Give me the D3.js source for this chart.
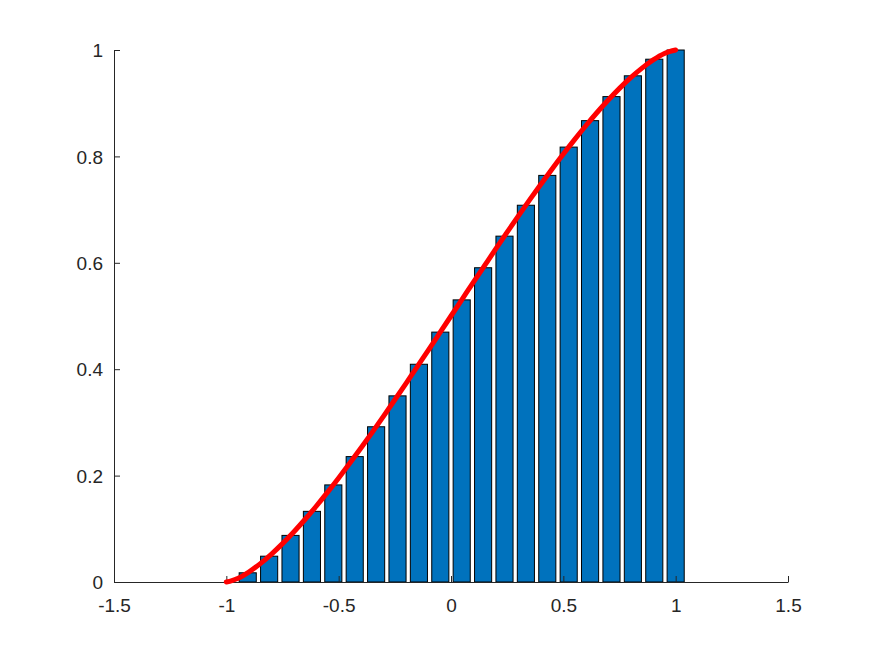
<!DOCTYPE html>
<html>
<head>
<meta charset="utf-8">
<script src="https://cdn.jsdelivr.net/npm/d3@7"></script>
<style>
  html, body { margin: 0; padding: 0; background: #fff; }
  svg { display: block; }
  text { font-family: "Liberation Sans", Arial, Helvetica, sans-serif; }
</style>
</head>
<body>
<svg id="chart" width="872" height="654"></svg>
<script>
// Bar positions and heights
const barX = [-0.9048, -0.8095, -0.7143, -0.6190, -0.5238, -0.4286, -0.3333, -0.2381, -0.1429, -0.0476,
              0.0476, 0.1429, 0.2381, 0.3333, 0.4286, 0.5238, 0.6190, 0.7143, 0.8095, 0.9048, 1.0];
const barY = [0.0173, 0.0485, 0.0876, 0.1328, 0.1825, 0.2357, 0.2918, 0.3499, 0.4093, 0.4697,
              0.5303, 0.5907, 0.6501, 0.7082, 0.7643, 0.8175, 0.8672, 0.9124, 0.9515, 0.9827, 1.0];
const barSpacing = 0.0952;

// Red curve points
const lineX = [-1.0, -0.975, -0.95, -0.9, -0.85, -0.8, -0.75, -0.7, -0.65, -0.6, -0.55, -0.5, -0.45, -0.4, -0.35,
               -0.3, -0.25, -0.2, -0.15, -0.1, -0.05, 0.0, 0.05, 0.1, 0.15, 0.2, 0.25, 0.3, 0.35, 0.4, 0.45,
               0.5, 0.55, 0.6, 0.65, 0.7, 0.75, 0.8, 0.85, 0.9, 0.95, 0.975, 1.0];
const lineY = [0.0, 0.0028, 0.0067, 0.0187, 0.0341, 0.0520, 0.0721, 0.0941, 0.1175, 0.1424, 0.1684, 0.1955, 0.2235, 0.2523, 0.2818,
               0.3119, 0.3425, 0.3735, 0.4049, 0.4364, 0.4682, 0.5, 0.5318, 0.5636, 0.5951, 0.6265, 0.6575, 0.6881, 0.7182, 0.7477, 0.7765,
               0.8045, 0.8316, 0.8576, 0.8825, 0.9059, 0.9279, 0.9480, 0.9659, 0.9813, 0.9933, 0.9972, 1.0];

const xTicks = [-1.5, -1, -0.5, 0, 0.5, 1, 1.5];
const yTicks = [0, 0.2, 0.4, 0.6, 0.8, 1];

(function () {
const svg = d3.select("#chart");
const mLeft = 114, mRight = 788, mTop = 50, mBottom = 582;
const x = d3.scaleLinear().domain([-1.5, 1.5]).range([mLeft, mRight]);
const y = d3.scaleLinear().domain([0, 1]).range([mBottom, mTop]);
const axisColor = "#262626";

// Bars
const bw = 0.8 * barSpacing;
svg.append("g").selectAll("rect")
  .data(barX.map((v, i) => ({x: v, y: barY[i]})))
  .join("rect")
  .attr("x", d => x(d.x - bw / 2))
  .attr("y", d => y(d.y))
  .attr("width", d => x(d.x + bw / 2) - x(d.x - bw / 2))
  .attr("height", d => y(0) - y(d.y))
  .attr("fill", "#0072BD")
  .attr("stroke", "#000")
  .attr("stroke-width", 1);

// Axes
const xAxis = d3.axisBottom(x).tickValues(xTicks).tickSizeInner(-6).tickSizeOuter(0)
  .tickFormat(d => String(d));
const yAxis = d3.axisLeft(y).tickValues(yTicks).tickSizeInner(-6).tickSizeOuter(0)
  .tickFormat(d => String(d));

const gx = svg.append("g").attr("transform", `translate(0,${mBottom})`).call(xAxis);
const gy = svg.append("g").attr("transform", `translate(${mLeft},0)`).call(yAxis);
[gx, gy].forEach(g => {
  g.select(".domain").attr("stroke", axisColor).attr("stroke-width", 1);
  g.selectAll(".tick line").attr("stroke", axisColor);
  g.selectAll(".tick text").attr("fill", axisColor).attr("font-size", 19)
    .attr("font-family", "'Liberation Sans', Arial, sans-serif");
});
gx.selectAll(".tick text").attr("y", 17).attr("dy", "0.71em");
gy.selectAll(".tick text").attr("x", -11).attr("dy", "0.35em");

// Red curve
const line = d3.line().x((d, i) => x(lineX[i])).y(d => y(d)).curve(d3.curveMonotoneX);
svg.append("path")
  .datum(lineY)
  .attr("d", line)
  .attr("fill", "none")
  .attr("stroke", "#FF0000")
  .attr("stroke-width", 5)
  .attr("stroke-linecap", "round")
  .attr("stroke-linejoin", "round");
})();
</script>
</body>
</html>
